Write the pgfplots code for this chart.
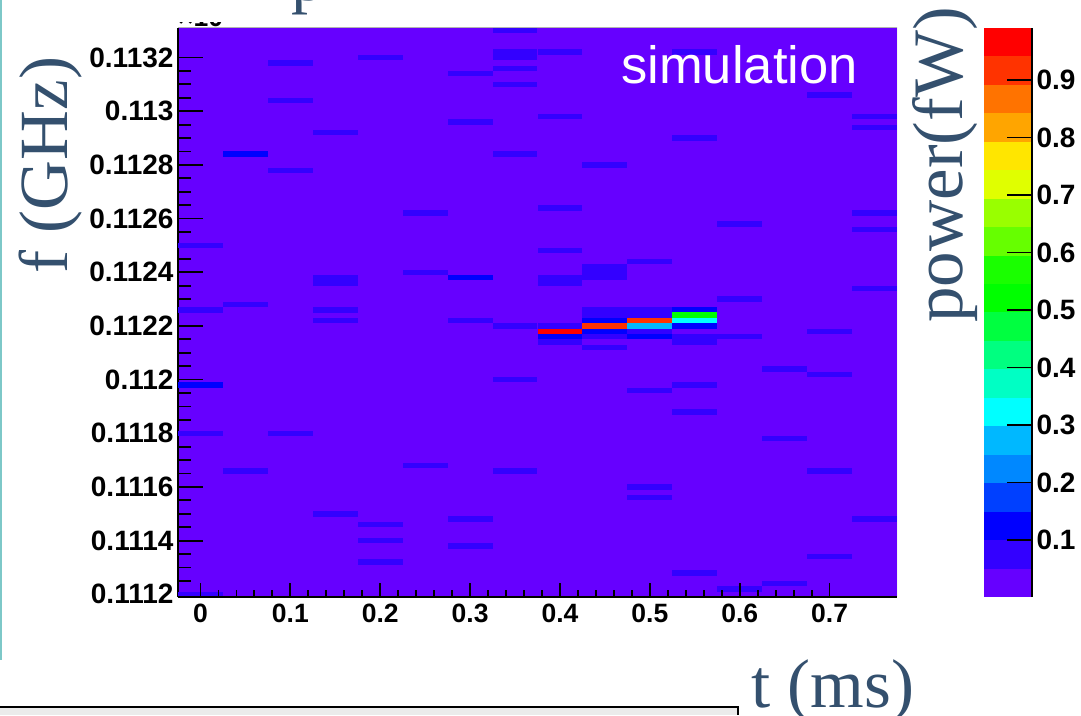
\documentclass[border=0pt]{standalone}
\usepackage{pgfplots}
\pgfplotsset{compat=1.18}
\usepackage{fontspec}
\setmainfont{Liberation Sans}
\newfontfamily\serifx{Liberation Serif}
\definecolor{bigtxt}{HTML}{34506E}
\definecolor{lv0}{HTML}{6600FF}
\definecolor{lv1}{HTML}{3300FF}
\definecolor{lv2}{HTML}{0000FF}
\definecolor{lv3}{HTML}{0040FF}
\definecolor{lv4}{HTML}{0088FF}
\definecolor{lv5}{HTML}{00B8FF}
\definecolor{lv6}{HTML}{00FFFF}
\definecolor{lv7}{HTML}{00FFC4}
\definecolor{lv8}{HTML}{00FF80}
\definecolor{lv9}{HTML}{00FF40}
\definecolor{lv10}{HTML}{00FF00}
\definecolor{lv11}{HTML}{1AFF00}
\definecolor{lv12}{HTML}{66FF00}
\definecolor{lv13}{HTML}{99FF00}
\definecolor{lv14}{HTML}{E0FF00}
\definecolor{lv15}{HTML}{FFE600}
\definecolor{lv16}{HTML}{FFA500}
\definecolor{lv17}{HTML}{FF7300}
\definecolor{lv18}{HTML}{FF3300}
\definecolor{lv19}{HTML}{FF0000}
\pgfdeclareplotmark{cell}{%
  \pgfpathrectangle{\pgfpoint{-22.46pt}{-2.72pt}}{\pgfpoint{44.92pt}{5.44pt}}%
  \pgfusepathqfill}
\pgfplotsset{
  cells/.style={only marks, mark=cell, draw=none, mark options={draw=none, fill=#1}},
  lab/.style={font=\fontsize{26.5}{27}\selectfont\bfseries},
  labb/.style={font=\fontsize{28}{28}\selectfont\bfseries},
}
\newcommand{\lev}[3]{\addplot[draw=none, fill=#1] coordinates {(0,#2)(1,#2)(1,#3)(0,#3)} --cycle;}
\begin{document}
\begin{tikzpicture}[x=1pt,y=1pt]
\path[use as bounding box, fill=white] (0,0) rectangle (1081,715);
\clip (0,0) rectangle (1081,715);

% left edge of the slide and the box below
\fill[color={rgb,255:red,125;green,200;blue,200}] (0,55) rectangle (1.5,715);
\fill[black!8] (0,0) rectangle (738,8);
\draw[black, line width=1.6pt] (0,8) -- (738,8) -- (738,0);

% heat map
\begin{axis}[
  at={(178pt,118pt)}, anchor=south west, scale only axis, width=719pt, height=569pt,
  xmin=-0.025, xmax=0.775, ymin=0.11119, ymax=0.11331,
  axis background/.style={fill=lv0},
  axis x line=none, axis y line=left, axis on top,
  axis line style={-, black, line width=2pt},
  ytick={0.1112,0.1114,0.1116,0.1118,0.112,0.1122,0.1124,0.1126,0.1128,0.113,0.1132},
  minor y tick num=3, scaled y ticks=false,
  tick align=inside, major tick length=25pt, minor tick length=12.5pt,
  tick style={black, line width=1.8pt},
  yticklabel style={labb, /pgf/number format/assume math mode=true, /pgf/number format/fixed, /pgf/number format/precision=4, xshift=-1pt},
  clip=true,
]
\addplot[cells=lv1] table[x=t,y=f] {
t f
0 0.11250
0 0.11226
0 0.11180
0 0.11120
0.05 0.11228
0.05 0.11166
0.10 0.11318
0.10 0.11304
0.10 0.11278
0.10 0.11180
0.15 0.11292
0.15 0.11238
0.15 0.11236
0.15 0.11226
0.15 0.11222
0.15 0.11150
0.20 0.11320
0.20 0.11146
0.20 0.11140
0.20 0.11132
0.25 0.11262
0.25 0.11240
0.25 0.11168
0.30 0.11314
0.30 0.11296
0.30 0.11222
0.30 0.11148
0.30 0.11138
0.35 0.11330
0.35 0.11322
0.35 0.11320
0.35 0.11316
0.35 0.11310
0.35 0.11284
0.35 0.11220
0.35 0.11200
0.35 0.11166
0.40 0.11322
0.40 0.11298
0.40 0.11264
0.40 0.11248
0.40 0.11238
0.40 0.11236
0.40 0.11220
0.40 0.11214
0.45 0.11280
0.45 0.11242
0.45 0.11240
0.45 0.11238
0.45 0.11226
0.45 0.11224
0.45 0.11216
0.45 0.11212
0.50 0.11244
0.50 0.11226
0.50 0.11224
0.50 0.11218
0.50 0.11196
0.50 0.11160
0.50 0.11156
0.55 0.11322
0.55 0.11290
0.55 0.11216
0.55 0.11214
0.55 0.11198
0.55 0.11188
0.55 0.11128
0.60 0.11258
0.60 0.11230
0.60 0.11216
0.60 0.11122
0.65 0.11204
0.65 0.11178
0.65 0.11124
0.70 0.11306
0.70 0.11218
0.70 0.11202
0.70 0.11166
0.70 0.11134
0.75 0.11298
0.75 0.11294
0.75 0.11262
0.75 0.11256
0.75 0.11234
0.75 0.11148
};
\addplot[cells=lv2] table[x=t,y=f] {
t f
0 0.11198
0.05 0.11284
0.30 0.11238
0.40 0.11216
0.45 0.11222
0.45 0.11218
0.50 0.11216
0.55 0.11226
0.55 0.11220
};
\addplot[cells=lv5] table[x=t,y=f] {
t f
0.50 0.11220
};
\addplot[cells=lv6] table[x=t,y=f] {
t f
0.55 0.11222
};
\addplot[cells=lv10] table[x=t,y=f] {
t f
0.55 0.11224
};
\addplot[cells=lv18] table[x=t,y=f] {
t f
0.45 0.11220
0.50 0.11222
};
\addplot[cells=lv19] table[x=t,y=f] {
t f
0.40 0.11218
};
\draw[black!30, line width=1pt] (rel axis cs:0,1) -- (rel axis cs:1,1) -- (rel axis cs:1,0);
\end{axis}

% x axis on the same frame
\begin{axis}[
  at={(178pt,118pt)}, anchor=south west, scale only axis, width=719pt, height=569pt,
  xmin=-0.025, xmax=0.775, ymin=0, ymax=1,
  axis y line=none, axis x line=bottom,
  axis line style={-, black, line width=2pt},
  xtick={0,0.1,0.2,0.3,0.4,0.5,0.6,0.7},
  xticklabels={0,0.1,0.2,0.3,0.4,0.5,0.6,0.7},
  minor x tick num=4,
  tick align=inside, major tick length=14pt, minor tick length=7pt,
  tick style={black, line width=1.8pt},
  xticklabel style={lab, yshift=-3pt},
]
\addplot[draw=none, forget plot] coordinates {(0,0)};
\end{axis}

% colour scale
\begin{axis}[
  at={(984pt,118pt)}, anchor=south west, scale only axis, width=48pt, height=569pt,
  xmin=0, xmax=1, ymin=0.0009, ymax=0.9904,
  axis x line=none, axis y line=right, axis on top,
  axis line style={-, black, line width=1.6pt},
  ytick={0.1,0.2,0.3,0.4,0.5,0.6,0.7,0.8,0.9},
  yticklabels={0.1,0.2,0.3,0.4,0.5,0.6,0.7,0.8,0.9},
  tick align=inside, major tick length=25pt,
  tick style={black, line width=1.4pt},
  yticklabel style={labb, xshift=1pt},
]
\lev{lv0}{0.0009}{0.0504}
\lev{lv1}{0.0504}{0.0998}
\lev{lv2}{0.0998}{0.1493}
\lev{lv3}{0.1493}{0.1988}
\lev{lv4}{0.1988}{0.2483}
\lev{lv5}{0.2483}{0.2978}
\lev{lv6}{0.2978}{0.3473}
\lev{lv7}{0.3473}{0.3967}
\lev{lv8}{0.3967}{0.4462}
\lev{lv9}{0.4462}{0.4957}
\lev{lv10}{0.4957}{0.5452}
\lev{lv11}{0.5452}{0.5947}
\lev{lv12}{0.5947}{0.6441}
\lev{lv13}{0.6441}{0.6936}
\lev{lv14}{0.6936}{0.7431}
\lev{lv15}{0.7431}{0.7926}
\lev{lv16}{0.7926}{0.8421}
\lev{lv17}{0.8421}{0.8915}
\lev{lv18}{0.8915}{0.9410}
\lev{lv19}{0.9410}{0.9904}
\end{axis}

\node[anchor=base, text=white, inner sep=0pt, font=\fontsize{52.5}{54}\selectfont] at (739.5,631) {simulation};
\node[anchor=base, rotate=90, inner sep=0pt, text=bigtxt, font=\serifx\fontsize{69}{70}\selectfont] at (67,550) {f (GHz)};
\node[anchor=base, rotate=90, inner sep=0pt, text=bigtxt, font=\serifx\fontsize{71}{72}\selectfont] at (962,550) {power(fW)};
\node[anchor=base, inner sep=0pt, text=bigtxt, font=\serifx\fontsize{69}{70}\selectfont] at (833,8) {t (ms)};
\node[anchor=base west, inner sep=0pt, text=bigtxt, font=\serifx\fontsize{68}{70}\selectfont] at (291,714) {p};
\begin{scope}
\clip (178,688) rectangle (230,692);
\node[anchor=base west, inner sep=0pt, font=\fontsize{26.5}{27}\selectfont\bfseries] at (178,688) {×10};
\end{scope}
\end{tikzpicture}
\end{document}
